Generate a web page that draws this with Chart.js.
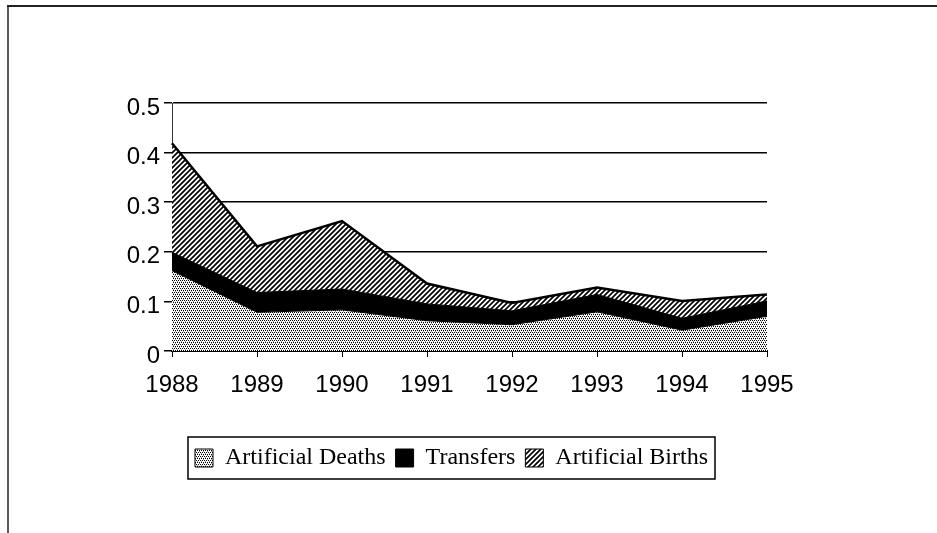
<!DOCTYPE html>
<html>
<head>
<meta charset="utf-8">
<script src="https://cdn.jsdelivr.net/npm/chart.js@4.4.1/dist/chart.umd.min.js"></script>
<style>
  html, body { margin: 0; padding: 0; background: #ffffff; }
  #wrap { position: relative; width: 937px; height: 533px; }
</style>
</head>
<body>
<div id="wrap"><canvas id="c" width="937" height="533"></canvas></div>
<script>
// ---- data ----
const years = ['1988', '1989', '1990', '1991', '1992', '1993', '1994', '1995'];
const artificialDeaths = [0.162, 0.078, 0.083, 0.061, 0.053, 0.079, 0.042, 0.070];
const transfers = [0.037, 0.040, 0.042, 0.034, 0.028, 0.035, 0.024, 0.031];
const artificialBirths = [0.220, 0.093, 0.137, 0.041, 0.016, 0.014, 0.035, 0.013];
const yTickValues = [0, 0.1, 0.2, 0.3, 0.4, 0.5];
const seriesNames = ['Artificial Deaths', 'Transfers', 'Artificial Births'];

// ---- fill patterns ----
function makeStipple() {
  const c = document.createElement('canvas');
  c.width = 4; c.height = 4;
  const g = c.getContext('2d');
  g.fillStyle = '#ffffff'; g.fillRect(0, 0, 4, 4);
  g.fillStyle = '#000000';
  [[0,0],[2,0],[1,2],[3,2]].forEach(p => g.fillRect(p[0], p[1], 1, 1));
  g.fillStyle = '#9a9a9a';
  [[1,1],[3,3]].forEach(p => g.fillRect(p[0], p[1], 1, 1));
  return g.createPattern(c, 'repeat');
}
function makeHatch() {
  const s = 5;
  const c = document.createElement('canvas');
  c.width = s; c.height = s;
  const g = c.getContext('2d');
  g.fillStyle = '#ffffff'; g.fillRect(0, 0, s, s);
  g.strokeStyle = '#000000'; g.lineWidth = 1.7;
  g.beginPath();
  g.moveTo(-1, s + 1); g.lineTo(s + 1, -1);
  g.moveTo(-1, 1); g.lineTo(1, -1);
  g.moveTo(s - 1, s + 1); g.lineTo(s + 1, s - 1);
  g.stroke();
  return g.createPattern(c, 'repeat');
}
const stipple = makeStipple();
const hatch = makeHatch();

// ---- plugins ----
const frameAndLegendBox = {
  id: 'frameAndLegendBox',
  afterDraw(chart) {
    const ctx = chart.ctx;
    ctx.save();
    // outer page frame (top and left)
    ctx.strokeStyle = '#222';
    ctx.lineWidth = 2;
    ctx.beginPath(); ctx.moveTo(7, 6); ctx.lineTo(937, 6); ctx.stroke();
    ctx.lineWidth = 1.5;
    ctx.beginPath(); ctx.moveTo(8, 6); ctx.lineTo(8, 533); ctx.stroke();
    // legend border
    const lg = chart.legend;
    if (lg && lg.legendHitBoxes && lg.legendHitBoxes.length) {
      const hb = lg.legendHitBoxes;
      const l = hb[0].left - 7;
      const r = hb[hb.length - 1].left + hb[hb.length - 1].width + 7;
      const cy = hb[0].top + hb[0].height / 2;
      ctx.strokeStyle = '#000';
      ctx.lineWidth = 1.5;
      ctx.strokeRect(l, cy - 21, r - l, 42);
    }
    ctx.restore();
  }
};

new Chart(document.getElementById('c'), {
  type: 'line',
  data: {
    labels: years,
    datasets: [
      {
        label: seriesNames[0],
        data: artificialDeaths,
        backgroundColor: stipple,
        borderColor: '#000',
        borderWidth: 1,
        fill: 'origin',
        pointRadius: 0,
        tension: 0
      },
      {
        label: seriesNames[1],
        data: transfers,
        backgroundColor: '#000',
        borderColor: '#000',
        borderWidth: 1,
        fill: '-1',
        pointRadius: 0,
        tension: 0
      },
      {
        label: seriesNames[2],
        data: artificialBirths,
        backgroundColor: hatch,
        borderColor: '#000',
        borderWidth: 2.5,
        fill: '-1',
        pointRadius: 0,
        tension: 0
      }
    ]
  },
  options: {
    responsive: false,
    animation: false,
    devicePixelRatio: 1,
    layout: { padding: { left: 0, right: 34, top: 103, bottom: 53 } },
    plugins: {
      tooltip: { enabled: false },
      title: { display: false },
      legend: {
        display: true,
        position: 'bottom',
        align: 'center',
        labels: {
          color: '#000',
          font: { family: '"Liberation Serif", "Times New Roman", serif', size: 24 },
          boxWidth: 18,
          boxHeight: 18,
          padding: 10,
          generateLabels(chart) {
            const items = Chart.defaults.plugins.legend.labels.generateLabels(chart);
            items.forEach(it => { it.lineWidth = 1; it.strokeStyle = '#000'; });
            return items;
          }
        }
      }
    },
    scales: {
      x: {
        type: 'category',
        offset: false,
        grid: { display: true, drawOnChartArea: false, drawTicks: true, tickLength: 6, color: '#000', lineWidth: 1 },
        border: { display: true, color: '#000', width: 2 },
        ticks: {
          color: '#000',
          padding: 14,
          maxRotation: 0,
          autoSkip: false,
          font: { family: '"Liberation Sans", Arial, Helvetica, sans-serif', size: 24 }
        },
        afterFit(scale) { scale.height = 85; }
      },
      y: {
        type: 'linear',
        position: 'left',
        stacked: true,
        min: 0,
        max: 0.5,
        grid: { display: true, drawTicks: true, tickLength: 8, color: '#000', lineWidth: 1.5 },
        border: { display: true, color: '#333', width: 1 },
        afterBuildTicks(scale) { scale.ticks = yTickValues.map(v => ({ value: v })); },
        ticks: {
          color: '#000',
          padding: 4,
          labelOffset: 5,
          font: { family: '"Liberation Sans", Arial, Helvetica, sans-serif', size: 24 },
          callback: (v) => String(Math.round(v * 10) / 10)
        },
        afterFit(scale) { scale.width = 172; }
      },
      yR: {
        type: 'linear',
        position: 'right',
        display: true,
        min: 0,
        max: 0.5,
        grid: { display: false, drawTicks: false },
        border: { display: false },
        ticks: { display: false },
        afterFit(scale) { scale.width = 136; }
      }
    }
  },
  plugins: [frameAndLegendBox]
});
</script>
</body>
</html>
